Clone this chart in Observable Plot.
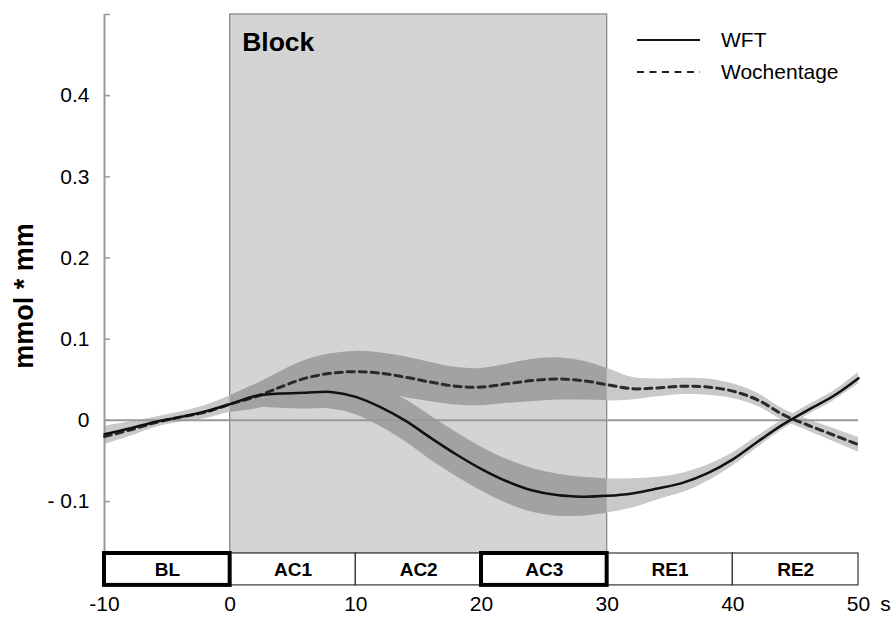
<!DOCTYPE html>
<html><head><meta charset="utf-8">
<script src="https://cdn.jsdelivr.net/npm/d3@7"></script>
<script src="https://cdn.jsdelivr.net/npm/@observablehq/plot@0.6"></script>
<style>
body{margin:0;background:#fff;}
#wrap{position:relative;width:896px;height:617px;font-family:"Liberation Sans",Arial,sans-serif;}
#legend{position:absolute;left:0;top:0;pointer-events:none;}
</style></head><body><div id="wrap"></div>
<script>
// ---- data ----
const time     = [-10,-8,-6,-4,-2,0,2,4,6,8,10,12,14,16,18,20,22,24,26,28,30,32,34,36,38,40,42,44,46,48,50];
const wftMean  = [-0.017,-0.010,-0.002,0.004,0.011,0.020,0.030,0.033,0.034,0.035,0.029,0.016,-0.001,-0.022,-0.042,-0.060,-0.075,-0.086,-0.092,-0.094,-0.093,-0.090,-0.084,-0.077,-0.065,-0.048,-0.026,-0.005,0.013,0.030,0.052];
const wftErr   = [0.010,0.008,0.006,0.006,0.007,0.010,0.014,0.018,0.020,0.021,0.022,0.024,0.026,0.027,0.027,0.027,0.027,0.027,0.026,0.024,0.021,0.018,0.014,0.012,0.010,0.008,0.007,0.006,0.006,0.006,0.007];
const wocMean  = [-0.020,-0.012,-0.003,0.004,0.010,0.020,0.029,0.041,0.052,0.058,0.060,0.058,0.053,0.047,0.042,0.041,0.045,0.049,0.051,0.049,0.044,0.039,0.040,0.042,0.041,0.036,0.025,0.007,-0.006,-0.018,-0.030];
const wocErr   = [0.010,0.008,0.006,0.006,0.008,0.010,0.015,0.019,0.022,0.024,0.025,0.025,0.025,0.024,0.023,0.023,0.024,0.026,0.026,0.024,0.020,0.014,0.011,0.010,0.010,0.009,0.008,0.007,0.007,0.008,0.009];
const seriesNames = ["WFT","Wochentage"];

const phases     = ["BL","AC1","AC2","AC3","RE1","RE2"];
const phaseStart = [-10,0,10,20,30,40];
const phaseEnd   = [0,10,20,30,40,50];
const phaseBold  = [true,false,false,true,false,false];

const blockLabel = "Block";
const blockStart = 0, blockEnd = 30;

const xTicks = [-10,0,10,20,30,40,50];
const xUnit = "s";
const yTicks = [-0.1,0,0.1,0.2,0.3,0.4,0.5];
const yTickLabels = ["- 0.1","0","0.1","0.2","0.3","0.4",""];
const yLabel = "mmol * mm";

// ---- build tables ----
const rows = [];
time.forEach((t,i)=>{
  rows.push({s:seriesNames[0], t, m:wftMean[i], e:wftErr[i]});
  rows.push({s:seriesNames[1], t, m:wocMean[i], e:wocErr[i]});
});
const inBlock = rows.filter(d=>d.t>=blockStart && d.t<=blockEnd);
const phaseRows = phases.map((p,i)=>({p, x1:phaseStart[i], x2:phaseEnd[i], bold:phaseBold[i]}));

const FONT = "Liberation Sans, Arial, sans-serif";
const W = 896, H = 617, ML = 104, MR = 38, MT = 14, MB = 64;
const yDomain = [-0.164, 0.5];
const boxTop = -0.164, boxBot = -0.2033;
const curve = "catmull-rom";
const tickLen = 6;

const chart = Plot.plot({
  width: W, height: H,
  marginLeft: ML, marginRight: MR, marginTop: MT, marginBottom: MB,
  style: {fontFamily: FONT, fontSize: "21px", color: "#000", background: "#fff"},
  x: {domain: [-10, 50]},
  y: {domain: yDomain},
  marks: [
    // block
    Plot.rectY([{a:blockStart,b:blockEnd}], {x1:"a", x2:"b", y1: yDomain[0], y2: yDomain[1], fill:"#d4d4d4", stroke:"#8a8a8a", strokeWidth:1.3}),
    // bands
    Plot.areaY(rows, {x:"t", y1:d=>d.m-d.e, y2:d=>d.m+d.e, z:"s", fill:"#c9c9c9", curve}),
    Plot.areaY(inBlock, {x:"t", y1:d=>d.m-d.e, y2:d=>d.m+d.e, z:"s", fill:"#a2a2a2", curve}),
    // zero line
    Plot.ruleY([0], {stroke:"#999", strokeWidth:2}),
    // y axis line + inward ticks
    Plot.ruleX([-10], {y1: yDomain[0], y2: yDomain[1], stroke:"#999", strokeWidth:2}),
    Plot.tickY(yTicks, {insetRight: W - ML - MR - tickLen, stroke:"#999", strokeWidth:1.5}),
    Plot.axisY(yTicks, {tickSize:0, tickPadding:15, tickFormat:(d)=>yTickLabels[yTicks.indexOf(d)], fontSize:21, fill:"#000", label:null}),
    // lines
    Plot.line(rows.filter(d=>d.s===seriesNames[1]), {x:"t", y:"m", stroke:"#2a2a2a", strokeWidth:3, strokeDasharray:"7,5", curve}),
    Plot.line(rows.filter(d=>d.s===seriesNames[0]), {x:"t", y:"m", stroke:"#111", strokeWidth:2.5, curve}),
    // block label
    Plot.text([blockLabel], {x: blockStart, frameAnchor:"top", dx:12, dy:28, textAnchor:"start", lineAnchor:"middle", fontWeight:"bold", fontSize:26.5, fill:"#000"}),
    // phase boxes
    Plot.rectY(phaseRows.filter(d=>!d.bold), {x1:"x1", x2:"x2", y1: boxTop, y2: boxBot, fill:"#fff", stroke:"#333", strokeWidth:1.2}),
    Plot.rectY(phaseRows.filter(d=>d.bold), {x1:"x1", x2:"x2", y1: boxTop, y2: boxBot, fill:"#fff", stroke:"#000", strokeWidth:4}),
    Plot.text(phaseRows, {x:d=>(d.x1+d.x2)/2, y:(boxTop+boxBot)/2, text:"p", fontWeight:"bold", fontSize:19, fill:"#000"}),
    // x axis labels
    Plot.axisX(xTicks, {tickSize:0, tickPadding:43, tickFormat:d=>String(d), fontSize:21, fill:"#000", label:null}),
    Plot.text([xUnit], {x: 50, frameAnchor:"bottom", dx:27, dy:43, lineAnchor:"top", fontSize:21, fill:"#000"}),
    // y label
    Plot.text([yLabel], {frameAnchor:"left", dx:-80, dy:12, rotate:-90, textAnchor:"middle", fontWeight:"bold", fontSize:27, fill:"#000"})
  ]
});
document.getElementById("wrap").appendChild(chart);

// legend overlay
const svg = d3.select("#wrap").append("svg").attr("id","legend").attr("width",W).attr("height",H);
const legendItems = seriesNames.map((n,i)=>({n, dash: i===0 ? null : "7,5.5", color: i===0 ? "#111" : "#222"}));
const g = svg.selectAll("g").data(legendItems).join("g").attr("transform",(d,i)=>`translate(637,${40+i*32})`);
g.append("line").attr("x1",0).attr("x2",63).attr("stroke",d=>d.color).attr("stroke-width",2).attr("stroke-dasharray",d=>d.dash);
g.append("text").attr("x",84).attr("dy","0.35em").attr("font-size",21).attr("font-family",FONT).text(d=>d.n);
</script></body></html>
